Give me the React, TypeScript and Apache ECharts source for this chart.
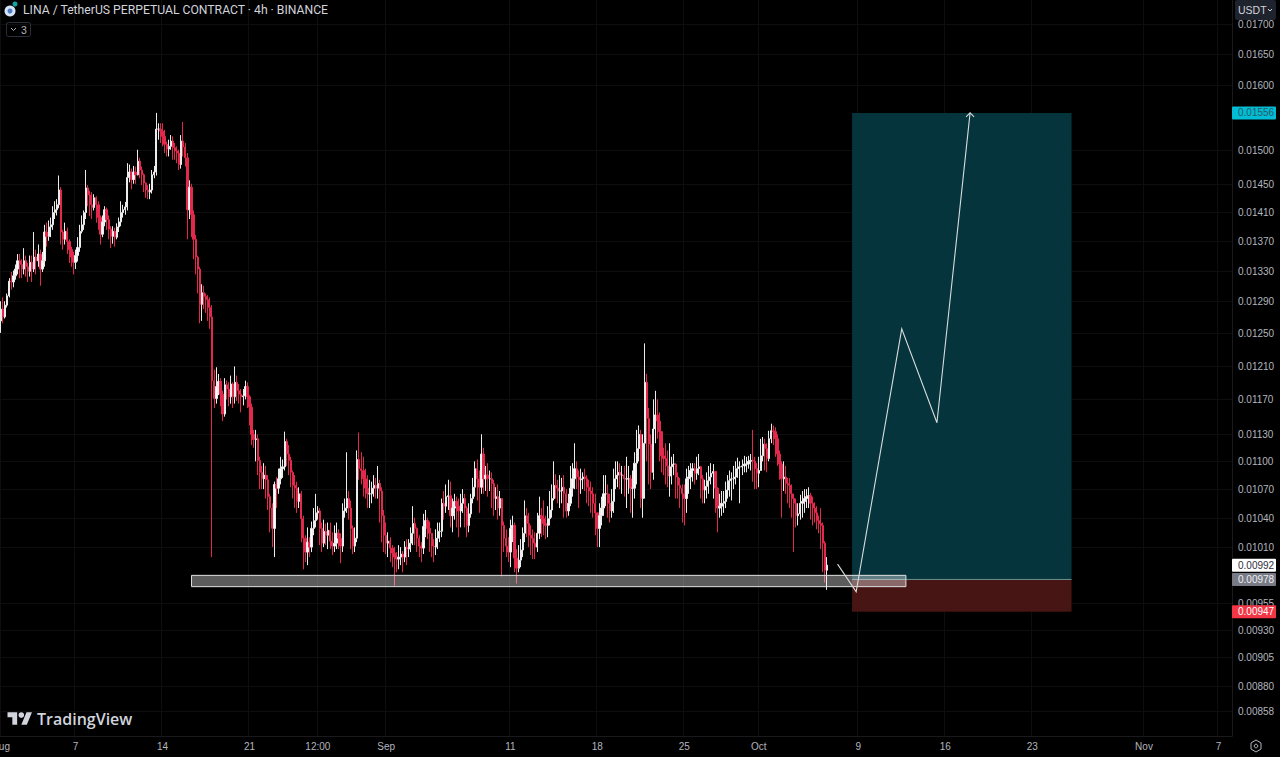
import React, { useEffect, useRef } from "react";
import * as echarts from "echarts";

const SCALE = 1e-5;

// closes, highs and lows of the 4h candles, in 1/100000 USDT, one row a day
const closes = [
1280,1270,1285,1297,1316,1315, 1323,1332,1343,1338,1332,1343, 1335,1329,1341,1332,1348,1343, 1352,1332,1343,1382,1376,1389,
1392,1409,1413,1420,1441,1382, 1372,1383,1369,1358,1348,1341, 1350,1361,1383,1392,1409,1444, 1434,1420,1416,1430,1420,1402,
1379,1396,1413,1399,1386,1376, 1383,1375,1389,1396,1409,1413, 1417,1459,1467,1456,1467,1463, 1483,1470,1463,1451,1441,1438,
1441,1463,1467,1531,1531,1528, 1520,1508,1501,1505,1513,1503, 1498,1495,1478,1513,1504,1488, 1413,1445,1406,1372,1348,1332,
1286,1301,1296,1292,1282,1270, 1192,1171,1185,1191,1176,1153, 1187,1182,1173,1188,1173,1190, 1180,1176,1173,1174,1185,1173,
1161,1130,1124,1125,1101,1088, 1081,1085,1080,1062,1050,1029, 1075,1071,1081,1092,1094,1122, 1108,1101,1088,1074,1071,1057,
1065,1039,1019,1005,1015,1010, 1029,1037,1045,1047,1029,1014, 1026,1022,1027,1016,1011,1014, 1024,1019,1011,1047,1050,1060,
1050,1029,1011,1019,1102,1092, 1090,1081,1071,1065,1065,1071, 1074,1071,1076,1068,1042,1022,
1014,1016,1009,1004,1000,998, 1000,1003,1000,1010,1008,1014, 1024,1034,1029,1019,1011,1009, 1031,1037,1029,1024,1011,1010,
1019,1026,1026,1055,1052,1062, 1063,1042,1050,1057,1052,1047, 1055,1060,1050,1032,1044,1060, 1072,1092,1081,1072,1108,1081,
1085,1081,1081,1076,1060,1062, 1050,1060,1032,1019,1011,1005, 1029,1032,999,989,997,1007, 1024,1042,1034,1022,1019,1014,
1010,1024,1042,1039,1034,1032, 1039,1048,1060,1074,1071,1068, 1068,1072,1065,1047,1055,1071, 1081,1092,1083,1080,1081,1083,
1081,1072,1068,1065,1055,1045, 1029,1042,1050,1065,1065, 1055,1047,1057,1081,1085,1088, 1085,1085,1081,1081,1081,1071,
1071,1098,1114,1130,1060,1120, 1190,1148,1119,1088,1136,1152, 1145,1133,1106,1103,1095,1084, 1094,1097,1097,1083,1074,1071,
1065,1060,1081,1083,1090,1092, 1087,1092,1094,1081,1069, 1073,1079,1083,1087,1089,1071, 1050,1052,1055,1057,1069,1079,
1081,1081,1083,1092,1094,1094, 1095,1097,1097,1100,1101,1100,
1092,1087,1090,1106,1119,1114, 1103,1125,1134,1133,1125,1108, 1097,1081,1083,1076,1074, 1065,1060,1055,1042,1044,1055,
1057,1060,1062,1063,1055,1050, 1045,1037,1034,1032,1014,987,992,
];
const highs = [
1290,1295,1290,1300,1320,1328, 1330,1338,1352,1352,1345,1360, 1350,1340,1350,1350,1382,1358, 1365,1358,1355,1392,1395,1398,
1402,1418,1425,1428,1462,1445, 1385,1395,1388,1372,1362,1355, 1358,1375,1392,1405,1412,1470, 1448,1440,1438,1435,1432,1425,
1405,1405,1418,1416,1405,1390, 1390,1388,1394,1402,1425,1420, 1424,1480,1478,1472,1476,1475, 1500,1488,1475,1465,1452,1448,
1450,1470,1476,1556,1540,1540, 1540,1530,1512,1515,1522,1520, 1510,1505,1500,1522,1542,1510, 1495,1455,1450,1412,1378,1350,
1335,1312,1310,1300,1298,1295, 1285,1205,1208,1200,1195,1180, 1195,1192,1190,1198,1190,1209, 1198,1188,1182,1182,1192,1190,
1175,1165,1135,1135,1130,1105, 1095,1098,1095,1085,1065,1055, 1078,1083,1092,1105,1102,1133, 1125,1118,1105,1090,1085,1078,
1072,1068,1042,1022,1030,1020, 1036,1050,1065,1052,1050,1035, 1038,1034,1035,1035,1025,1032, 1035,1028,1024,1055,1060,1110,
1068,1058,1032,1030,1112,1132, 1110,1105,1092,1085,1080,1078, 1085,1082,1095,1080,1072,1048,
1035,1025,1020,1012,1010,1005, 1012,1010,1006,1016,1018,1018, 1030,1052,1040,1030,1022,1015, 1044,1048,1040,1036,1020,1018,
1028,1035,1035,1060,1068,1075, 1080,1078,1060,1065,1062,1060, 1065,1070,1065,1052,1055,1065, 1082,1100,1102,1090,1130,1115,
1095,1098,1090,1088,1080,1072, 1075,1068,1060,1036,1028,1020, 1038,1042,1035,1008,1012,1018, 1030,1058,1050,1045,1032,1028,
1025,1045,1062,1050,1058,1042, 1052,1068,1075,1100,1086,1080, 1085,1082,1085,1070,1065,1095, 1098,1120,1100,1090,1092,1088,
1092,1085,1080,1078,1072,1065, 1038,1055,1062,1085,1085, 1075,1065,1070,1092,1100,1100, 1098,1095,1095,1105,1095,1085,
1090,1110,1135,1140,1135,1130, 1237,1200,1160,1130,1170,1180, 1170,1155,1130,1115,1120,1112, 1120,1105,1108,1098,1088,1082,
1075,1075,1092,1095,1098,1098, 1098,1105,1108,1095,1085, 1080,1088,1095,1098,1097,1085, 1072,1065,1068,1068,1078,1085,
1090,1088,1095,1100,1104,1100, 1102,1106,1105,1106,1108,1135,
1105,1098,1105,1125,1127,1125, 1120,1134,1142,1140,1138,1130, 1112,1100,1100,1095,1082, 1082,1075,1065,1060,1055,1064,
1068,1070,1070,1072,1066,1062, 1056,1052,1042,1050,1035,1016,1000,
];
const lows = [
1250,1262,1268,1282,1295,1305, 1308,1318,1325,1320,1320,1325, 1322,1315,1322,1315,1328,1325, 1335,1310,1328,1335,1362,1370,
1375,1385,1400,1405,1415,1365, 1358,1365,1352,1340,1335,1325, 1332,1342,1355,1380,1385,1400, 1418,1404,1400,1412,1395,1385,
1365,1375,1390,1385,1372,1360, 1366,1362,1372,1382,1390,1402, 1406,1412,1452,1442,1450,1450, 1462,1458,1448,1438,1430,1428,
1428,1436,1458,1462,1515,1510, 1505,1495,1490,1490,1500,1485, 1485,1480,1470,1472,1490,1475, 1372,1400,1375,1345,1325,1300,
1262,1265,1280,1275,1265,1255, 1000,1160,1165,1175,1162,1145, 1150,1170,1162,1165,1160,1165, 1168,1165,1155,1163,1170,1160,
1140,1118,1115,1100,1085,1070, 1070,1070,1060,1048,1025,1010, 1000,1050,1065,1075,1082,1090, 1095,1085,1072,1060,1050,1045,
1050,1015,988,995,992,1000, 1005,1022,1030,1038,1012,1005, 1010,1012,1008,1008,1002,1005, 1008,1008,994,1005,1040,1045,
1038,1008,1003,1005,1015,1080, 1075,1062,1060,1050,1050,1055, 1062,1060,1060,1035,1015,1005,
1003,1000,995,990,972,985, 988,992,985,995,992,1000, 1005,1012,1012,1005,1000,995, 1003,1020,1018,1005,1000,995,
1002,1008,1015,1020,1038,1045, 1048,1030,1025,1038,1030,1020, 1030,1045,1030,1020,1025,1040, 1055,1062,1058,1045,1065,1065,
1068,1062,1068,1050,1042,1048, 1038,1042,981,1005,1000,995, 990,1015,985,974,985,990, 1000,1015,1020,1010,1002,998,
998,1005,1018,1020,1022,1018, 1020,1032,1040,1058,1060,1055, 1050,1055,1040,1040,1042,1052, 1062,1070,1070,1050,1065,1070,
1068,1055,1052,1045,1040,1022, 1010,1010,1032,1042,1052, 1040,1035,1040,1045,1070,1072, 1070,1065,1062,1050,1065,1045,
1040,1060,1075,1100,1050,1040, 1060,1100,1075,1070,1080,1120, 1125,1100,1088,1085,1075,1072, 1062,1075,1085,1060,1060,1050,
1035,1032,1045,1065,1070,1078, 1075,1080,1085,1060,1055, 1055,1060,1065,1075,1060,1045, 1025,1040,1042,1045,1050,1060,
1062,1058,1070,1075,1082,1055, 1085,1088,1088,1092,1090,1078,
1070,1070,1072,1090,1100,1090, 1088,1100,1120,1118,1105,1095, 1080,1040,1068,1065,1055, 1050,1040,1005,1030,1032,1038,
1040,1045,1050,1050,1038,1032, 1035,1028,1024,1008,985,975,968,
];
const firstOpen = 1265;

const yTicks = ["0.01700","0.01650","0.01600","0.01500","0.01450","0.01410","0.01370","0.01330","0.01290","0.01250","0.01210","0.01170","0.01130","0.01100","0.01070","0.01040","0.01010","0.00955","0.00930","0.00905","0.00880","0.00858"];

const xTicks: [string, string][] = [
  ["2023-08-01 00:00","Aug"],["2023-08-07 00:00","7"],["2023-08-14 00:00","14"],["2023-08-21 00:00","21"],
  ["2023-08-26 12:00","12:00"],["2023-09-01 00:00","Sep"],["2023-09-11 00:00","11"],["2023-09-18 00:00","18"],
  ["2023-09-25 00:00","25"],["2023-10-01 00:00","Oct"],["2023-10-09 00:00","9"],["2023-10-16 00:00","16"],
  ["2023-10-23 00:00","23"],["2023-11-01 00:00","Nov"],["2023-11-07 00:00","7"],
];

const entryPrice = 978, targetPrice = 1556, stopPrice = 947, lastPrice = 992;
const zoneStart = "2023-10-08 12:00", zoneEnd = "2023-10-26 04:00";
const supportStart = "2023-08-16 08:00", supportEnd = "2023-10-12 20:00";
const supportHigh = 982, supportLow = 971;
const pathDates = ["2023-10-07 08:00","2023-10-08 20:00","2023-10-12 12:00","2023-10-15 08:00","2023-10-18 00:00"];
const pathPrices = [993, 966, 1255, 1143, 1556];

const badges: [number, string, string, string][] = [
  [targetPrice, "0.01556", "#00bcd4", "#2b5a66"],
  [lastPrice, "0.00992", "#ffffff", "#2a2e39"],
  [entryPrice, "0.00978", "#787b86", "#eceef2"],
  [stopPrice, "0.00947", "#f23645", "#ffffff"],
];

const FONT = '"Liberation Sans", Arial, sans-serif';

// all 4h slots shown on the time axis
const pad = (n: number) => String(n).padStart(2, "0");
const categories: string[] = [];
for (let i = 0; i < 595; i++) {
  const d = new Date(Date.UTC(2023, 7, 1) + i * 4 * 3600 * 1000);
  categories.push(`${d.getUTCFullYear()}-${pad(d.getUTCMonth() + 1)}-${pad(d.getUTCDate())} ${pad(d.getUTCHours())}:00`);
}
const xLabel: Record<string, string> = Object.fromEntries(xTicks);
const idx = (s: string) => categories.indexOf(s);
const px = (v: number) => v * SCALE;

const candleData = closes.map((c, i) => {
  const o = i === 0 ? firstOpen : closes[i - 1];
  return [px(o), px(c), px(Math.min(lows[i], o, c)), px(Math.max(highs[i], o, c))];
});

const LOGO_D = "M14 22H7V11H0V4h14v18zM28 22h-8l7.5-18h8L28 22zM24 8a4 4 0 1 1-8 0a4 4 0 1 1 8 0z";
echarts.graphic.registerShape("tvMark", echarts.graphic.extendPath(LOGO_D as any, {}) as any);

export default function App() {
  const ref = useRef<HTMLDivElement>(null);
  useEffect(() => {
    document.body.style.margin = "0";
    document.body.style.background = "#000";
    const chart = echarts.init(ref.current!, undefined, { renderer: "svg" });
    const one = [[0, px(entryPrice)]];
    const showTick = (i: number) => xLabel[categories[i]] !== undefined;
    chart.setOption({
      animation: false,
      backgroundColor: "#000000",
      textStyle: { fontFamily: FONT },
      grid: { left: 0, right: 48, top: 0, bottom: 21, outerBoundsMode: "none" },
      xAxis: {
        type: "category",
        data: categories,
        boundaryGap: true,
        axisTick: { show: false },
        axisLine: { lineStyle: { color: "#1a1a1c", width: 1 } },
        axisLabel: {
          color: "#b2b5be",
          fontSize: 10,
          margin: 5,
          interval: (i: number) => showTick(i),
          formatter: (v: string) => xLabel[v] ?? "",
        },
        splitLine: { show: true, interval: (i: number) => showTick(i), lineStyle: { color: "#0e0e10", width: 1 } },
      },
      yAxis: {
        type: "log",
        logBase: 10,
        position: "right",
        min: 0.008369,
        max: 0.01741,
        axisTick: { show: false },
        axisLabel: { show: false },
        splitLine: { show: false },
        minorTick: { show: false },
        axisLine: { show: true, lineStyle: { color: "#1a1a1c" } },
      },
      series: [
        {
          type: "custom",
          name: "grid and price scale",
          coordinateSystem: "cartesian2d",
          silent: true,
          z: 1,
          data: yTicks.map((t) => [0, Number(t)]),
          renderItem: (p: any, api: any) => {
            const t = yTicks[p.dataIndex];
            const y = Math.round(api.coord([0, Number(t)])[1]) + 0.5;
            return {
              type: "group",
              children: [
                { type: "line", shape: { x1: 0, y1: y, x2: 1232, y2: y }, style: { stroke: "#0e0e10", lineWidth: 1 } },
                { type: "text", style: { text: t, x: 1238, y, fill: "#b2b5be", font: `10px ${FONT}`, textAlign: "left", verticalAlign: "middle" } },
              ],
            };
          },
        },
        {
          type: "custom",
          name: "long position",
          coordinateSystem: "cartesian2d",
          silent: true,
          z: 2,
          data: one,
          renderItem: (_p: any, api: any) => {
            const a = api.coord([idx(zoneStart), px(targetPrice)]);
            const b = api.coord([idx(zoneEnd), px(entryPrice)]);
            const c = api.coord([idx(zoneEnd), px(stopPrice)]);
            return {
              type: "group",
              children: [
                { type: "rect", shape: { x: a[0], y: a[1], width: b[0] - a[0], height: b[1] - a[1] }, style: { fill: "#05343c" } },
                { type: "rect", shape: { x: a[0], y: b[1], width: b[0] - a[0], height: c[1] - b[1] }, style: { fill: "#471513" } },
                { type: "line", shape: { x1: a[0], y1: b[1], x2: b[0], y2: b[1] }, style: { stroke: "#6f8f92", lineWidth: 1 } },
              ],
            };
          },
        },
        {
          type: "candlestick",
          name: "LINAUSDT",
          z: 3,
          barWidth: 1.8,
          data: candleData,
          itemStyle: {
            color: "#ffffff",
            color0: "#e5294d",
            borderColor: "#ececec",
            borderColor0: "#e0294b",
            borderWidth: 1,
          },
        },
        {
          type: "custom",
          name: "support zone and path",
          coordinateSystem: "cartesian2d",
          silent: true,
          z: 4,
          data: one,
          renderItem: (_p: any, api: any) => {
            const a = api.coord([idx(supportStart), px(supportHigh)]);
            const b = api.coord([idx(supportEnd), px(supportLow)]);
            const pts = pathDates.map((d, i) => api.coord([idx(d), px(pathPrices[i])]));
            const tip = pts[pts.length - 1];
            return {
              type: "group",
              children: [
                { type: "rect", shape: { x: a[0], y: a[1], width: b[0] - a[0], height: b[1] - a[1] }, style: { fill: "rgba(255,255,255,0.36)", stroke: "#dfe1e2", lineWidth: 1 } },
                { type: "polyline", shape: { points: pts }, style: { fill: "none", stroke: "#d8dcdc", lineWidth: 1.1 } },
                { type: "polyline", shape: { points: [[tip[0] - 4, tip[1] + 4], tip, [tip[0] + 4, tip[1] + 4]] }, style: { fill: "none", stroke: "#d8dcdc", lineWidth: 1.1 } },
              ],
            };
          },
        },
        {
          type: "custom",
          name: "price badges",
          coordinateSystem: "cartesian2d",
          silent: true,
          z: 5,
          data: badges.map((b) => [0, px(b[0])]),
          renderItem: (p: any, api: any) => {
            const b = badges[p.dataIndex];
            const y = api.coord([0, px(b[0])])[1];
            return {
              type: "group",
              children: [
                { type: "rect", shape: { x: 1232, y: y - 6.5, width: 44, height: 13, r: 1 }, style: { fill: b[2] } },
                { type: "text", style: { text: b[1], x: 1238, y, fill: b[3], font: `10px ${FONT}`, textAlign: "left", verticalAlign: "middle" } },
              ],
            };
          },
        },
      ],
      graphic: [
        { type: "rect", z: 50, shape: { x: 1235, y: 0, width: 41, height: 20, r: 2 }, style: { fill: "#1f232e" } },
        { type: "text", z: 51, style: { text: "USDT", x: 1238, y: 10, fill: "#d1d4dc", font: `10.5px ${FONT}`, verticalAlign: "middle" } },
        { type: "polyline", z: 51, shape: { points: [[1268, 9], [1270, 11], [1272, 9]] }, style: { fill: "none", stroke: "#d1d4dc", lineWidth: 1 } },

        { type: "circle", z: 50, shape: { cx: 10, cy: 11, r: 5.5 }, style: { fill: "#d6e4f5" } },
        { type: "circle", z: 51, shape: { cx: 10, cy: 11, r: 2.5 }, style: { fill: "#4d7fc9" } },
        { type: "circle", z: 51, shape: { cx: 15, cy: 4, r: 2.5 }, style: { fill: "#17a2a8" } },
        { type: "text", z: 50, style: { text: "LINA / TetherUS PERPETUAL CONTRACT · 4h · BINANCE", x: 23, y: 10, fill: "#d1d4dc", font: `12.2px Roboto, ${FONT}`, verticalAlign: "middle" } },

        { type: "rect", z: 50, shape: { x: 6.5, y: 22.5, width: 24, height: 14, r: 2 }, style: { fill: "none", stroke: "#2a2e39", lineWidth: 1 } },
        { type: "polyline", z: 51, shape: { points: [[11, 28], [13.5, 30.5], [16, 28]] }, style: { fill: "none", stroke: "#b2b5be", lineWidth: 1 } },
        { type: "text", z: 51, style: { text: "3", x: 21, y: 29.5, fill: "#b2b5be", font: `10.5px ${FONT}`, verticalAlign: "middle" } },

        { type: "tvMark", z: 50, x: 7.5, y: 709.6, scaleX: 0.69, scaleY: 0.69, style: { fill: "#d1d4dc" } },
        { type: "text", z: 50, style: { text: "TradingView", x: 37, y: 719, fill: "#d1d4dc", font: `600 16px "Open Sans", ${FONT}`, verticalAlign: "middle" } },

        { type: "polygon", z: 50, shape: { points: [[1256, 740], [1261, 743], [1261, 749], [1256, 752], [1251, 749], [1251, 743]] }, style: { fill: "none", stroke: "#b2b5be", lineWidth: 1 } },
        { type: "circle", z: 50, shape: { cx: 1256, cy: 746, r: 1.8 }, style: { fill: "none", stroke: "#b2b5be", lineWidth: 1 } },
      ],
    });
    return () => chart.dispose();
  }, []);
  return <div ref={ref} style={{ width: 1280, height: 757, background: "#000" }} />;
}
